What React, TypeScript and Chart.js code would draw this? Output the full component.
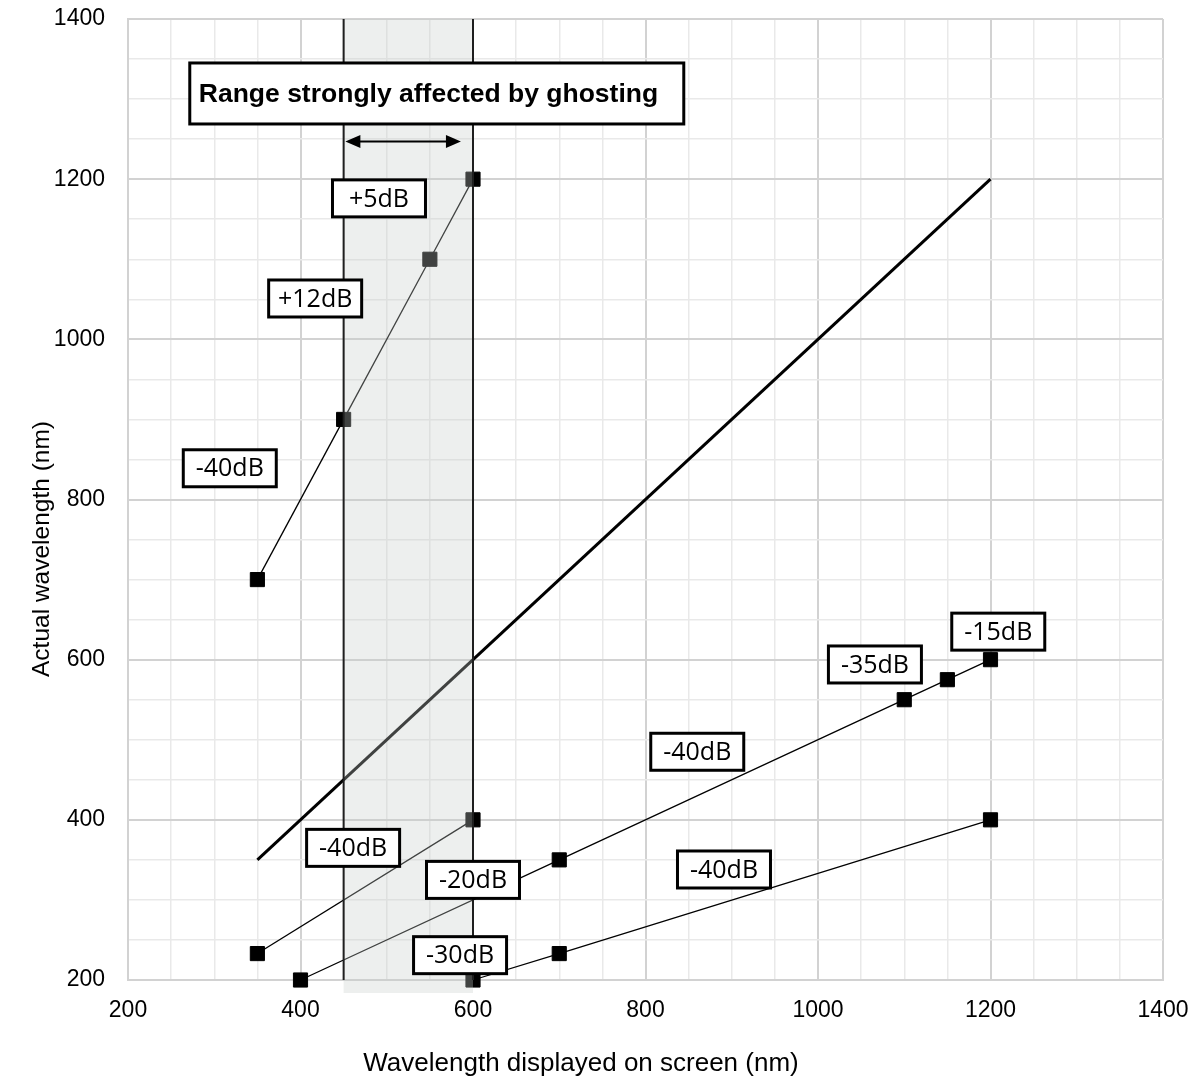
import React, { useEffect, useRef } from 'react';
import { Chart, registerables } from 'chart.js';

Chart.register(...registerables);

// ---- data ----
const axisMin = 200;
const axisMax = 1400;
const gridStep = 50;
const labelStep = 200;

const referenceX = [350, 1200];
const referenceY = [350, 1200];

const seriesAX = [350, 450, 550, 600];
const seriesAY = [700, 900, 1100, 1200];

const seriesBX = [350, 600];
const seriesBY = [233, 400];

const seriesCX = [400, 700, 1100, 1150, 1200];
const seriesCY = [200, 350, 550, 575, 600];

const seriesDX = [600, 700, 1200];
const seriesDY = [200, 233, 400];

const ghostStart = 450;
const ghostEnd = 600;
const ghostTitle = 'Range strongly affected by ghosting';
const ghostTitleAnchor = { x: 558, y: 1307 };
const ghostArrow = { x0: 452, x1: 586, y: 1247 };

const dbTexts = ['+5dB', '+12dB', '-40dB', '-40dB', '-20dB', '-30dB', '-40dB', '-40dB', '-35dB', '-15dB'];
const dbAnchorX = [491, 417, 318, 461, 600, 585, 860, 891, 1066, 1209];
const dbAnchorY = [1176, 1051, 839, 365, 325, 231, 485, 338, 594, 635];

const xTitle = 'Wavelength displayed on screen (nm)';
const yTitle = 'Actual wavelength (nm)';

const toPoints = (xs: number[], ys: number[]) => xs.map((x, i) => ({ x, y: ys[i] }));

const overlayPlugin = {
  id: 'ghostOverlay',
  afterDatasetsDraw(chart: any) {
    const { ctx, chartArea } = chart;
    const xs = chart.scales.x;
    const ys = chart.scales.y;
    const x0 = xs.getPixelForValue(ghostStart);
    const x1 = xs.getPixelForValue(ghostEnd);
    ctx.save();
    // shaded band (translucent, over the data)
    ctx.fillStyle = 'rgba(200,205,203,0.32)';
    ctx.fillRect(x0, chartArea.top, x1 - x0, chartArea.bottom + 13 - chartArea.top);
    // band edges
    ctx.strokeStyle = '#1f1f1f';
    ctx.lineWidth = 2;
    [x0, x1].forEach((px) => {
      ctx.beginPath();
      ctx.moveTo(px, chartArea.top);
      ctx.lineTo(px, chartArea.bottom);
      ctx.stroke();
    });
    // double arrow
    const ax0 = xs.getPixelForValue(ghostArrow.x0);
    const ax1 = xs.getPixelForValue(ghostArrow.x1);
    const ay = ys.getPixelForValue(ghostArrow.y);
    const headL = 15;
    const headH = 6.5;
    ctx.strokeStyle = '#000';
    ctx.fillStyle = '#000';
    ctx.lineWidth = 2;
    ctx.beginPath();
    ctx.moveTo(ax0 + headL - 2, ay);
    ctx.lineTo(ax1 - headL + 2, ay);
    ctx.stroke();
    ctx.beginPath();
    ctx.moveTo(ax0, ay);
    ctx.lineTo(ax0 + headL, ay - headH);
    ctx.lineTo(ax0 + headL, ay + headH);
    ctx.closePath();
    ctx.fill();
    ctx.beginPath();
    ctx.moveTo(ax1, ay);
    ctx.lineTo(ax1 - headL, ay - headH);
    ctx.lineTo(ax1 - headL, ay + headH);
    ctx.closePath();
    ctx.fill();

    const drawBox = (cx: number, cy: number, w: number, h: number) => {
      ctx.fillStyle = '#fff';
      ctx.fillRect(cx - w / 2, cy - h / 2, w, h);
      ctx.strokeStyle = '#000';
      ctx.lineWidth = 3;
      ctx.strokeRect(cx - w / 2, cy - h / 2, w, h);
    };

    // title box
    const tx = xs.getPixelForValue(ghostTitleAnchor.x);
    const ty = ys.getPixelForValue(ghostTitleAnchor.y);
    drawBox(tx, ty, 494, 61);
    ctx.fillStyle = '#000';
    ctx.font = 'bold 26.5px "Liberation Sans", Arial, sans-serif';
    ctx.textAlign = 'left';
    ctx.textBaseline = 'middle';
    ctx.fillText(ghostTitle, tx - 494 / 2 + 9, ty + 1);

    // dB labels
    ctx.font = '25px "Open Sans", "Liberation Sans", sans-serif';
    ctx.textAlign = 'center';
    dbTexts.forEach((t, i) => {
      const cx = xs.getPixelForValue(dbAnchorX[i]);
      const cy = ys.getPixelForValue(dbAnchorY[i]);
      drawBox(cx, cy, 93, 37);
      ctx.fillStyle = '#000';
      ctx.fillText(t, cx, cy + 1);
    });
    ctx.restore();
  },
  afterDraw(chart: any) {
    const { ctx } = chart;
    ctx.save();
    ctx.fillStyle = '#000';
    ctx.textAlign = 'center';
    ctx.textBaseline = 'middle';
    ctx.font = '26px "Liberation Sans", Arial, sans-serif';
    ctx.fillText(xTitle, 581, 1064);
    ctx.font = '24.5px "Liberation Sans", Arial, sans-serif';
    ctx.translate(42, 549);
    ctx.rotate(-Math.PI / 2);
    ctx.fillText(yTitle, 0, 0);
    ctx.restore();
  },
};

const gridColor = (ctx: any) =>
  ctx.tick && ctx.tick.value % labelStep === 0 ? '#d2d2d2' : '#e9e9e9';
const gridWidth = (ctx: any) => (ctx.tick && ctx.tick.value % labelStep === 0 ? 2 : 1.5);

export default function App() {
  const canvasRef = useRef<HTMLCanvasElement | null>(null);

  useEffect(() => {
    if (!canvasRef.current) return;
    const thin = {
      showLine: true,
      borderColor: '#000',
      borderWidth: 1.3,
      pointStyle: 'rect',
      pointRadius: 10,
      pointBackgroundColor: '#000',
      pointBorderColor: '#000',
      pointBorderWidth: 1,
      clip: false,
    };
    const tickFont = { family: '"Liberation Sans", Arial, sans-serif', size: 23 };
    const chart = new Chart(canvasRef.current, {
      type: 'scatter',
      data: {
        datasets: [
          {
            label: 'reference',
            data: toPoints(referenceX, referenceY),
            showLine: true,
            borderColor: '#000',
            borderWidth: 3,
            pointRadius: 0,
            clip: false,
          },
          { label: 'A', data: toPoints(seriesAX, seriesAY), ...thin },
          { label: 'B', data: toPoints(seriesBX, seriesBY), ...thin },
          { label: 'C', data: toPoints(seriesCX, seriesCY), ...thin },
          { label: 'D', data: toPoints(seriesDX, seriesDY), ...thin },
        ] as any,
      },
      options: {
        animation: false,
        responsive: false,
        layout: { padding: { top: 19, right: 37, left: 0, bottom: 0 } },
        plugins: {
          legend: { display: false },
          tooltip: { enabled: false },
        },
        scales: {
          x: {
            type: 'linear',
            min: axisMin,
            max: axisMax,
            afterFit: (s: any) => {
              s.height = 102;
              s.paddingLeft = 0;
              s.paddingRight = 0;
            },
            ticks: {
              stepSize: gridStep,
              autoSkip: false,
              maxRotation: 0,
              padding: 17,
              color: '#000',
              font: tickFont,
              callback: (v: any) => (Number(v) % labelStep === 0 ? String(v) : ''),
            },
            grid: { color: gridColor, lineWidth: gridWidth, drawTicks: false },
            border: { color: '#d2d2d2', width: 2 },
            title: { display: false },
          },
          y: {
            type: 'linear',
            min: axisMin,
            max: axisMax,
            afterFit: (s: any) => {
              s.width = 128;
              s.paddingTop = 0;
              s.paddingBottom = 0;
            },
            ticks: {
              stepSize: gridStep,
              autoSkip: false,
              padding: 23,
              color: '#000',
              font: tickFont,
              callback: (v: any) => (Number(v) % labelStep === 0 ? String(v) : ''),
            },
            grid: { color: gridColor, lineWidth: gridWidth, drawTicks: false },
            border: { color: '#d2d2d2', width: 2 },
            title: { display: false },
          },
        },
      } as any,
      plugins: [overlayPlugin],
    });
    return () => chart.destroy();
  }, []);

  return (
    <div style={{ position: 'absolute', left: 0, top: 0, width: 1200, height: 1082, background: '#fff' }}>
      <canvas ref={canvasRef} width={1200} height={1082} style={{ display: 'block' }} />
    </div>
  );
}
